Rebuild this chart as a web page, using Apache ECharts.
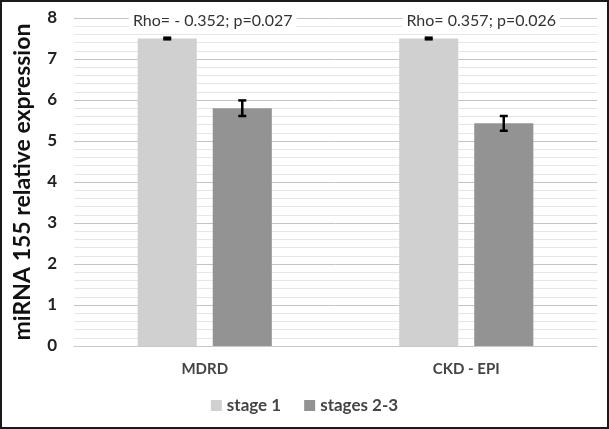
<!DOCTYPE html>
<html><head><meta charset="utf-8">
<script src="https://cdn.jsdelivr.net/npm/echarts@6/dist/echarts.min.js"></script>
<style>html,body{margin:0;padding:0;background:#fff}#c{width:609px;height:429px}</style>
</head><body><div id="c"></div>
<script>
const categories = ['MDRD', 'CKD - EPI'];
const seriesNames = ['stage 1', 'stages 2-3'];
const stage1 = [7.5, 7.5];
const stage1Err = [0.02, 0.02];
const stages23 = [5.8, 5.43];
const stages23Err = [0.19, 0.18];
const annotations = ['Rho= - 0.352; p=0.027', 'Rho= 0.357; p=0.026'];
const yTicks = [0, 1, 2, 3, 4, 5, 6, 7, 8];

const BAR_W = 0.226, BAR_GAP = 0.27;
function errSeries(vals, errs, side) {
  return {
    type: 'custom', z: 5, silent: true,
    data: vals.map((v, i) => [i, v, errs[i]]),
    renderItem(params, api) {
      const band = api.size([1, 0])[0];
      const off = side * band * BAR_W * (1 + BAR_GAP) / 2;
      const c = api.coord([api.value(0), api.value(1)]);
      const hi = api.coord([api.value(0), api.value(1) + api.value(2)]);
      const lo = api.coord([api.value(0), api.value(1) - api.value(2)]);
      const x = c[0] + off, hw = 4;
      const st = { stroke: '#000', lineWidth: 2.5 };
      return { type: 'group', children: [
        { type: 'line', shape: { x1: x, y1: hi[1], x2: x, y2: lo[1] }, style: st },
        { type: 'line', shape: { x1: x - hw, y1: hi[1], x2: x + hw, y2: hi[1] }, style: st },
        { type: 'line', shape: { x1: x - hw, y1: lo[1], x2: x + hw, y2: lo[1] }, style: st }
      ]};
    }
  };
}
const annOffsets = [8, 15];
const chart = echarts.init(document.getElementById('c'));
chart.setOption({
  animation: false,
  textStyle: { fontFamily: 'Lato, "Open Sans", sans-serif' },
  grid: { left: 74, right: 12, top: 18, bottom: 83 },
  legend: {
    data: seriesNames, bottom: 10, left: 'center', itemWidth: 11, itemHeight: 11, itemGap: 23,
    icon: 'rect',
    textStyle: { fontSize: 17, fontWeight: 'bold', color: '#444', fontFamily: 'Lato' }
  },
  xAxis: {
    type: 'category', data: categories,
    axisLine: { lineStyle: { color: '#c8c8c8', width: 1 } },
    axisTick: { show: false },
    axisLabel: { fontSize: 15, fontWeight: 'bold', color: '#444', margin: 16, fontFamily: 'Lato' }
  },
  yAxis: {
    type: 'value', min: 0, max: 8, interval: 1,
    name: 'miRNA 155 relative expression', nameLocation: 'middle', nameGap: 40,
    nameTextStyle: { fontSize: 23, fontWeight: 'bold', color: '#111', fontFamily: 'Lato' },
    axisLabel: { fontSize: 17, fontWeight: 'bold', color: '#222', margin: 17, fontFamily: 'Lato',
      formatter: v => yTicks.includes(v) ? String(v) : '' },
    axisLine: { show: false }, axisTick: { show: false },
    splitLine: { lineStyle: { color: '#c4c4c4', width: 1 } },
    minorTick: { show: false, splitNumber: 5 },
    minorSplitLine: { show: true, lineStyle: { color: '#e6e6e6', width: 1 } }
  },
  series: [
    { name: seriesNames[0], type: 'bar', data: stage1, barWidth: (BAR_W * 100) + '%', barGap: (BAR_GAP * 100) + '%',
      itemStyle: { color: '#d0d0d0' } },
    { name: seriesNames[1], type: 'bar', data: stages23, barWidth: (BAR_W * 100) + '%',
      itemStyle: { color: '#939393' } },
    errSeries(stage1, stage1Err, -1),
    errSeries(stages23, stages23Err, 1),
    {
      type: 'custom', z: 6, silent: true,
      data: annotations.map((t, i) => [i, 8]),
      renderItem(params, api) {
        const c = api.coord([api.value(0), api.value(1)]);
        return { type: 'text', x: c[0] + annOffsets[params.dataIndex], y: c[1] + 3,
          style: { text: annotations[params.dataIndex], fill: '#333', fontSize: 16,
            fontFamily: 'Lato', align: 'center', verticalAlign: 'middle',
            backgroundColor: '#fff', padding: [1, 4] } };
      }
    }
  ],
  graphic: [{ type: 'rect', shape: { x: 1, y: 1, width: 607, height: 427 },
    style: { fill: 'none', stroke: '#1a1a1a', lineWidth: 2 }, z: 100 }]
});
</script></body></html>
